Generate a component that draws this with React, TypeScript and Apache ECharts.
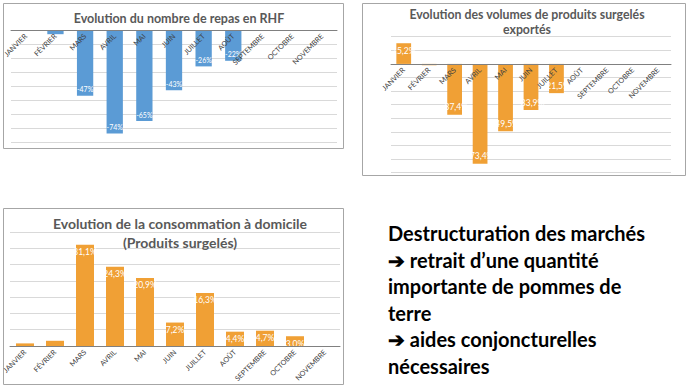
import React, { useEffect, useRef } from "react";
import * as echarts from "echarts";

const months = ["JANVIER", "FÉVRIER", "MARS", "AVRIL", "MAI", "JUIN", "JUILLET", "AOÛT", "SEPTEMBRE", "OCTOBRE", "NOVEMBRE"];
const repasRHF = [0, -3, -47, -74, -65, -43, -26, -22, null, null, null];
const exportVolumes = [15.2, -1, -37.4, -73.4, -49.5, -33.9, -21.5, null, null, null, null];
const domicile = [0.8, 1.6, 31.1, 24.3, 20.9, 7.2, 16.3, 4.4, 4.7, 3.0, null];

const title1 = "Evolution du nombre de repas en RHF";
const title2 = "Evolution des volumes de produits surgelés\nexportés";
const title3 = "Evolution de la consommation à domicile\n(Produits surgelés)";
const bodyLines = [
  "Destructuration des marchés",
  "➔ retrait d’une quantité",
  "importante de pommes de",
  "terre",
  "➔ aides conjoncturelles",
  "nécessaires",
];

const FONT = "Lato";
const BLUE = "#5b9bd5";
const ORANGE = "#f0a035";
const GRID = "#d9d9d9";
const AXIS = "#808080";
const LABEL = "#404040";
const TITLE = "#595959";

const fmtInt = (v: number) => `${v}%`;
const fmtDec = (v: number) => `${v.toFixed(1).replace(".", ",")}%`;

function xAxis(gridIndex: number, offset: number) {
  return {
    type: "category",
    gridIndex,
    data: months,
    position: "bottom",
    offset,
    z: 5,
    axisTick: { show: false },
    axisLine: { onZero: false, lineStyle: { color: AXIS, width: 1 } },
    axisLabel: { rotate: 45, fontSize: 7.2, color: LABEL, fontFamily: FONT, margin: 5, interval: 0 },
  };
}

function yAxis(gridIndex: number, min: number, max: number, interval: number) {
  return {
    type: "value",
    gridIndex,
    min,
    max,
    interval,
    axisLabel: { show: false },
    axisLine: { show: false },
    axisTick: { show: false },
    splitLine: { lineStyle: { color: GRID, width: 1 } },
  };
}

function barData(values: (number | null)[], fmt: (v: number) => string, minShow: number) {
  return values.map((v) => {
    if (v === null) return null;
    const show = Math.abs(v) >= minShow;
    return {
      value: v,
      label: {
        show,
        position: v < 0 ? "insideBottom" : "insideTop",
        formatter: fmt(v),
      },
    };
  });
}

export default function App() {
  const ref = useRef<HTMLDivElement>(null);
  useEffect(() => {
    if (!ref.current) return;
    const chart = echarts.init(ref.current, null, { renderer: "svg" });
    const labelBase = { color: "#ffffff", fontFamily: FONT, fontSize: 8, distance: 3 };
    const g1 = { left: 11, top: 30, width: 326, height: 112 };
    const g2 = { left: 391, top: 36.7, width: 280, height: 136 };
    const g3 = { left: 10, top: 232, width: 330, height: 114 };
    // offsets move the category axis up to the zero line
    const off1 = -g1.height; // range -80..0, zero at the top
    const off2 = -g2.height * (80 / 100); // range -80..20
    chart.setOption({
      animation: false,
      textStyle: { fontFamily: FONT },
      title: [
        { text: title1, left: 174, top: 7, textAlign: "center", textStyle: { fontSize: 12.5, fontWeight: "bold", color: TITLE, fontFamily: FONT } },
        { text: title2, left: 522, top: 2, textAlign: "center", textStyle: { fontSize: 12.3, fontWeight: "bold", color: TITLE, fontFamily: FONT, lineHeight: 15 } },
        { text: title3, left: 175, top: 209, textAlign: "center", textStyle: { fontSize: 14, fontWeight: "bold", color: TITLE, fontFamily: FONT, lineHeight: 19 } },
      ],
      grid: [g1, g2, g3],
      xAxis: [xAxis(0, off1), xAxis(1, off2), xAxis(2, 0)],
      yAxis: [yAxis(0, -80, 0, 10), yAxis(1, -80, 20, 10), yAxis(2, 0, 35, 5)],
      series: [
        {
          type: "bar",
          xAxisIndex: 0,
          yAxisIndex: 0,
          barWidth: "55%",
          itemStyle: { color: BLUE },
          label: { ...labelBase, fontSize: 7 },
          data: barData(repasRHF, fmtInt, 5),
        },
        {
          type: "bar",
          xAxisIndex: 1,
          yAxisIndex: 1,
          barWidth: "58%",
          itemStyle: { color: ORANGE },
          label: { ...labelBase, fontSize: 8.5 },
          data: barData(exportVolumes, fmtDec, 5),
        },
        {
          type: "bar",
          xAxisIndex: 2,
          yAxisIndex: 2,
          barWidth: "60%",
          itemStyle: { color: ORANGE },
          label: { ...labelBase, fontSize: 8.5 },
          data: barData(domicile, fmtDec, 2.5),
        },
      ],
      graphic: [
        { type: "rect", shape: { x: 3.5, y: 3.5, width: 340, height: 145 }, style: { fill: "none", stroke: "#a6a6a6", lineWidth: 1 }, z: -1 },
        { type: "rect", shape: { x: 362.5, y: 3.5, width: 323, height: 172 }, style: { fill: "none", stroke: "#a6a6a6", lineWidth: 1 }, z: -1 },
        { type: "rect", shape: { x: 3.5, y: 208.5, width: 340, height: 176 }, style: { fill: "none", stroke: "#a6a6a6", lineWidth: 1 }, z: -1 },
        {
          type: "text",
          left: 388,
          top: 220,
          style: {
            text: bodyLines.join("\n"),
            fontFamily: FONT,
            fontSize: 20,
            fontWeight: "bold",
            fill: "#000000",
            lineHeight: 26.5,
          },
        },
      ],
    });
    return () => chart.dispose();
  }, []);
  return (
    <div
      ref={ref}
      style={{ position: "fixed", left: 0, top: 0, width: 690, height: 387, background: "#ffffff" }}
    />
  );
}
